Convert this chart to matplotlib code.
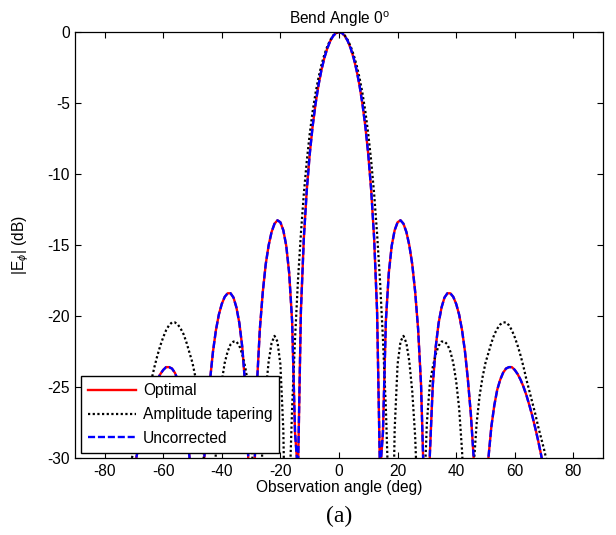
import numpy as np
import matplotlib
matplotlib.use("Agg")
import matplotlib.pyplot as plt

# Angles (deg), one side of the symmetric pattern
half_angles = list(range(0, 71)) + [72, 74, 76, 78, 80, 82, 84, 86, 88, 90]

# Optimal / Uncorrected (identical) pattern, dB
uniform_half = [0, -0.07, -0.28, -0.64, -1.16, -1.83, -2.69, -3.75, -5.06, -6.65,
                -8.63, -11.16, -14.54, -19.66, -31.1, -28.2, -20.35, -16.97, -15.05, -13.96,
                -13.40, -13.26, -13.50, -14.08, -15.02, -16.35, -18.3, -20.9, -24.8, -32.0,
                -46.0, -29.8, -24.9, -22.2, -20.5, -19.4, -18.7, -18.4, -18.4, -18.65,
                -19.15, -19.9, -21.0, -22.5, -24.5, -26.9, -30.1, -35.4, -49.4, -40.5,
                -33.5, -30.0, -27.8, -26.3, -25.2, -24.5, -24.0, -23.7, -23.6, -23.6,
                -23.8, -24.1, -24.5, -25.0, -25.6, -26.3, -27.05, -27.9, -28.8, -29.8,
                -30.9,
                -33.5, -36.5, -40.0, -42.0, -45.0, -47.0, -50.0, -48.0, -50.0, -55.0]

# Amplitude tapering pattern, dB
taper_half = [0, -0.06, -0.25, -0.57, -1.02, -1.6, -2.33, -3.22, -4.3, -5.6,
              -7.2, -9.1, -11.4, -14.2, -17.5, -21.6, -26.5, -33.0, -40.0, -28.0,
              -23.4, -21.8, -21.4, -21.9, -23.2, -25.3, -28.5, -34.0, -45.0, -33.0,
              -27.5, -24.8, -23.6, -22.7, -22.1, -21.8, -21.8, -22.0, -22.5, -23.3,
              -24.6, -26.5, -29.5, -34.0, -45.0, -35.0, -30.5, -27.5, -25.6, -24.3,
              -23.3, -22.6, -21.9, -21.3, -20.9, -20.6, -20.45, -20.45, -20.65, -21.0,
              -21.5, -22.1, -22.8, -23.6, -24.5, -25.3, -26.1, -26.9, -27.8, -28.6,
              -29.4,
              -31.2, -33.5, -36.0, -40.0, -45.0, -50.0, -48.0, -50.0, -52.0, -55.0]

xticks = [-80, -60, -40, -20, 0, 20, 40, 60, 80]
yticks = [0, -5, -10, -15, -20, -25, -30]

def mirror(a, v):
    a = np.asarray(a, float); v = np.asarray(v, float)
    return np.concatenate([-a[:0:-1], a]), np.concatenate([v[:0:-1], v])

theta, uni = mirror(half_angles, uniform_half)
_, tap = mirror(half_angles, taper_half)

plt.rcParams['font.family'] = ['Liberation Sans', 'DejaVu Sans']
plt.rcParams['axes.unicode_minus'] = False
plt.rcParams['mathtext.fontset'] = 'custom'
plt.rcParams['mathtext.rm'] = 'Liberation Sans'
plt.rcParams['mathtext.it'] = 'Liberation Sans:italic'

fig = plt.figure(figsize=(6.16, 5.35), dpi=100)
ax = fig.add_axes([0.1222, 0.1439, 0.8562, 0.7963])

fs = 11.2
ax.plot(theta, uni, color='#ff0000', lw=1.7, label='Optimal')
ax.plot(theta, tap, color='black', lw=1.6, linestyle=(0, (1, 1.1)), label='Amplitude tapering')
ax.plot(theta, uni, color='#0000ff', lw=1.7, linestyle=(0, (3, 1.2)), label='Uncorrected')

ax.set_xlim(-90, 90)
ax.set_ylim(-30, 0)
ax.set_xticks(xticks)
ax.set_yticks(yticks)
ax.tick_params(direction='in', top=True, right=True, length=4, width=0.8,
               labelsize=fs, pad=4)
for s in ax.spines.values():
    s.set_linewidth(0.9)

ax.set_title(r'Bend Angle 0$^{\mathrm{o}}$', fontsize=fs, pad=6)
ax.set_xlabel('Observation angle (deg)', fontsize=fs, labelpad=1)
ax.set_ylabel(r'|E$_{\phi}$| (dB)', fontsize=fs)
ax.yaxis.set_label_coords(-0.083, 0.5)

leg = ax.legend(loc='lower left', fontsize=fs, frameon=True, fancybox=False,
                edgecolor='black', framealpha=1, borderpad=0.45, labelspacing=0.55,
                handlelength=3.1, handletextpad=0.45, borderaxespad=0.35)
leg.get_frame().set_linewidth(1.0)

fig.text(0.551, 0.034, '(a)', ha='center', va='center', fontsize=17,
         family='Liberation Serif')

fig.savefig('out.png', dpi=100)
